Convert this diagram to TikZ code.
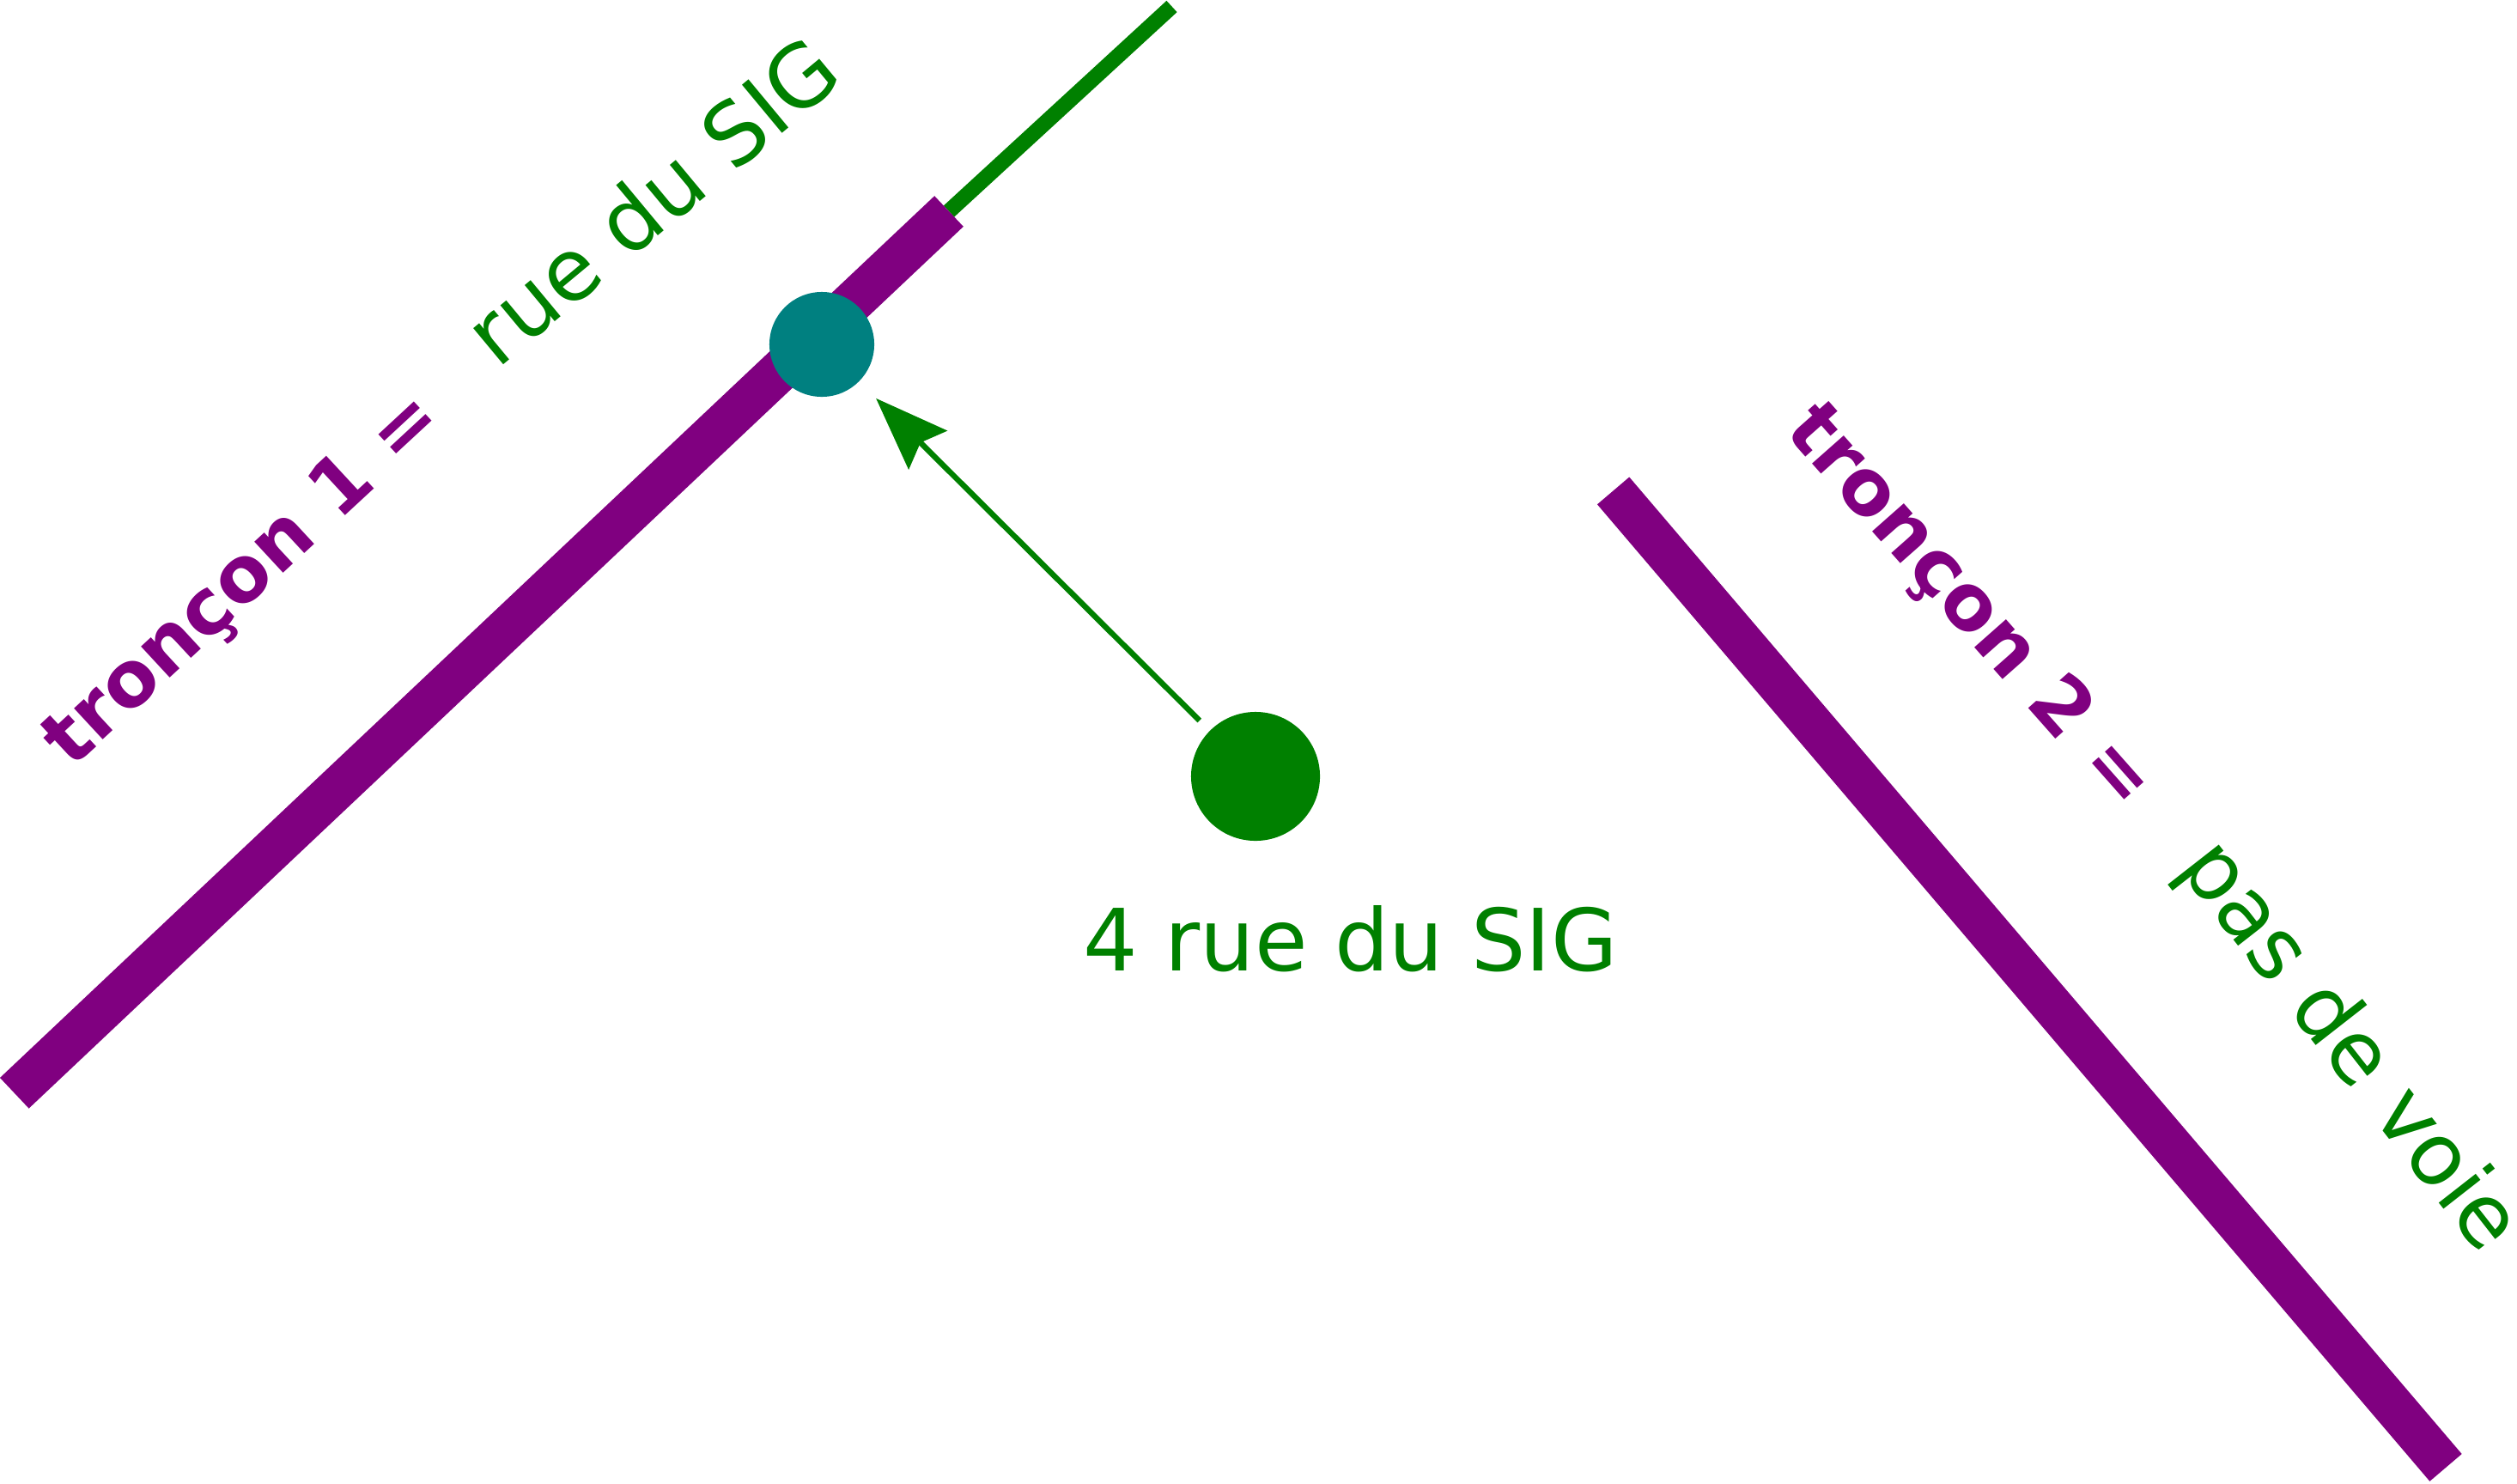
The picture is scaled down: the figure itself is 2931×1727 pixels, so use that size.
\documentclass[tikz,border=0pt]{standalone}
\usepackage{fontspec}
\setmainfont{DejaVu Sans}
\usepackage{tikz}
\usetikzlibrary{arrows.meta}
\definecolor{Troncon}{HTML}{800080}
\definecolor{Rue}{HTML}{008000}
\definecolor{Projete}{HTML}{008080}

\begin{document}
\begin{tikzpicture}[x=0.01cm,y=-0.01cm,every node/.style={inner sep=0pt,outer sep=0pt},
  troncon/.style={draw=Troncon,line width=0.49cm},
  lbltroncon/.style={anchor=base west,text=Troncon,font=\fontsize{25.6}{30}\selectfont\bfseries},
  lblrue/.style={anchor=base west,text=Rue,font=\fontsize{28.45}{34}\selectfont}]
  \useasboundingbox (0,0) rectangle (2931,1727);
  \draw[Rue,line width=0.18cm] (1105,246) -- (1364.5,7.5);
  \draw[troncon] (16.8,1272.8) -- (1105,246);
  \draw[troncon] (1878.6,571.4) -- (2848,1708.9);
  \node[circle,fill=Projete,minimum size=1.22cm] (proj) at (957,401) {};
  \node[circle,fill=Rue,minimum size=1.5cm] (adr) at (1462,904) {};
  \node[anchor=base,text=Rue,font=\fontsize{28.45}{34}\selectfont] (adrlbl) at (1572.5,1130.6) {4 rue du SIG};
  \draw[-{Stealth[length=0.85cm,width=0.63cm,inset=0.12cm]},Rue,line width=0.065cm,shorten <=0.17cm,shorten >=0.28cm] (adr) -- (proj);
  \node[lbltroncon,rotate=42.8] (t1) at (83,896) {tronçon 1 =};
  \node[lblrue,rotate=39.7] (r1) at (579.8,430) {rue du SIG};
  \node[lbltroncon,rotate=-48.5] (t2) at (2076.8,502.2) {tronçon 2 =};
  \node[lblrue,rotate=-52] (r2) at (2535,1010) {pas de voie};
\end{tikzpicture}
\end{document}
